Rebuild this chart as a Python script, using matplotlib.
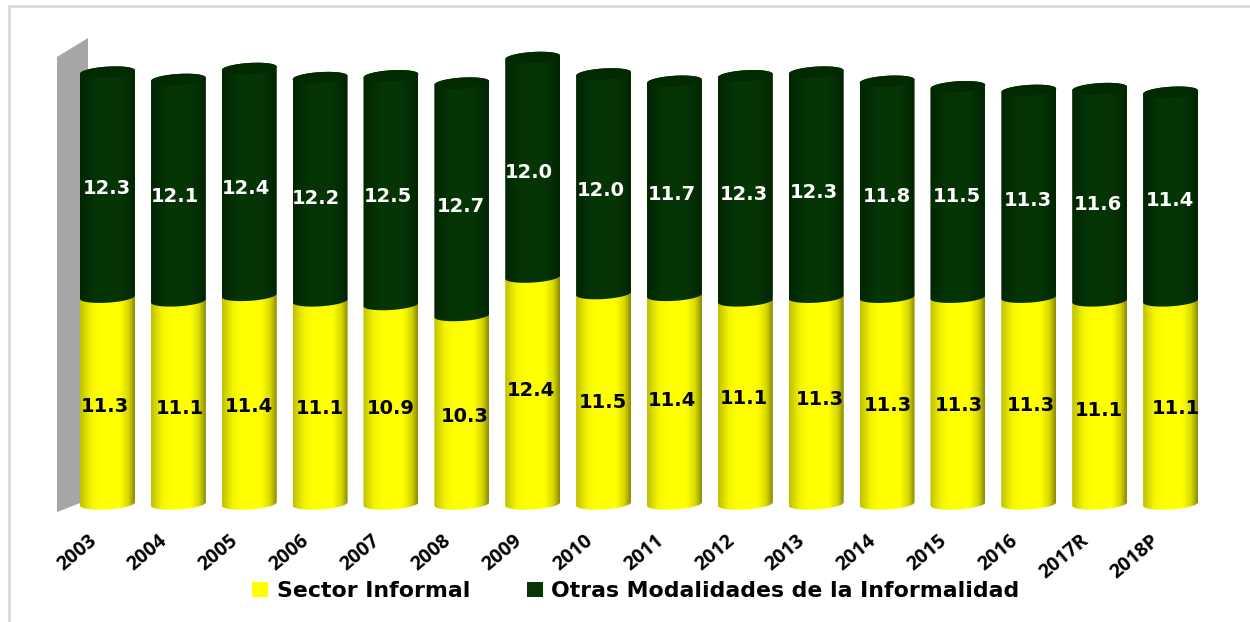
import numpy as np
import matplotlib
matplotlib.use("Agg")
import matplotlib.pyplot as plt
from matplotlib.colors import LinearSegmentedColormap
from matplotlib.patches import PathPatch, Polygon, Rectangle
from matplotlib.path import Path
from matplotlib.lines import Line2D
from matplotlib.transforms import Affine2D, ScaledTranslation

years = ["2003", "2004", "2005", "2006", "2007", "2008", "2009", "2010",
         "2011", "2012", "2013", "2014", "2015", "2016", "2017R", "2018P"]
sector_informal = [11.3, 11.1, 11.4, 11.1, 10.9, 10.3, 12.4, 11.5,
                   11.4, 11.1, 11.3, 11.3, 11.3, 11.3, 11.1, 11.1]
otras_modalidades = [12.3, 12.1, 12.4, 12.2, 12.5, 12.7, 12.0, 12.0,
                     11.7, 12.3, 12.3, 11.8, 11.5, 11.3, 11.6, 11.4]
series_names = ["Sector Informal", "Otras Modalidades de la Informalidad"]

# label placement in reference pixels (style only)
yellow_label_x = [105, 180, 249, 320, 391, 465, 531, 603, 672, 744, 820, 888, 959, 1031, 1099, 1176]
yellow_label_y = [407, 408, 406, 408, 408, 417, 390, 402, 400, 398, 400, 406, 406, 406, 411, 408]
dark_label_x = [107, 175, 246, 316, 388, 461, 529, 601, 672, 744, 814, 887, 957, 1028, 1098, 1170]
dark_label_y = [189, 196, 188, 199, 197, 207, 173, 190, 195, 194, 193, 196, 197, 201, 204, 201]

W, H = 1250, 622
PX_X = 70.87      # pixels per category
PX_Y = 18.3       # pixels per unit
X0 = 107.5        # pixel of first category
Y0 = 504.0        # pixel of value zero
HW = 27.5 / PX_X  # half bar width
ELL = 5.5 / PX_Y
TILT = 1.7 / PX_Y

yellow_cmap = LinearSegmentedColormap.from_list(
    "y", [(0, "#c0c000"), (0.2, "#f4f400"), (0.35, "#ffff00"), (0.72, "#ffff00"),
          (0.88, "#d8d800"), (1, "#8a8a00")])
dark_cmap = LinearSegmentedColormap.from_list(
    "d", [(0, "#012501"), (0.3, "#053405"), (0.7, "#063606"), (1, "#012501")])
DARK_CAP = "#012a01"

fig = plt.figure(figsize=(W / 100, H / 100), dpi=100, facecolor="white")
L, R, TOP, BOTTOM = 57, 1205, 30, Y0 + PX_Y
ax = fig.add_axes([L / W, (H - BOTTOM) / H, (R - L) / W, (BOTTOM - TOP) / H])
xlim = ((L - X0) / PX_X, (R - X0) / PX_X)
ylim = (-1, (Y0 - TOP) / PX_Y)
for s in ax.spines.values():
    s.set_visible(False)
ax.patch.set_visible(False)
ax.yaxis.set_visible(False)

pix = Affine2D().scale(1, -1).translate(0, H)

# chart wall
ax.add_patch(Polygon([(57, 57), (88, 38), (88, 500), (57, 512)], closed=True,
                     facecolor="#a6a6a6", edgecolor="none", transform=pix,
                     zorder=0, clip_on=False))

# frame
fig.add_artist(Line2D([9 / W, 9 / W, 1], [0, 1 - 6 / H, 1 - 6 / H], color="#d9d9d9", lw=2))

u = np.linspace(-1, 1, 80)
arc = np.sqrt(1 - u ** 2)


def segment(i, low, high, cmap, z):
    xs = i + HW * u
    lower = low + TILT * u - ELL * arc
    upper = high + TILT * u + ELL * arc
    verts = np.vstack([np.column_stack([xs, lower]),
                       np.column_stack([xs[::-1], upper[::-1]])])
    patch = PathPatch(Path(np.vstack([verts, verts[0]])), transform=ax.transData,
                      facecolor="none", edgecolor="none")
    ax.add_patch(patch)
    im = ax.imshow(np.linspace(0, 1, 256)[None, :], cmap=cmap, aspect="auto",
                   extent=(i - HW, i + HW, low - 2 * ELL, high + 2 * ELL),
                   interpolation="bilinear", zorder=z)
    im.set_clip_path(patch)


x_pos = np.arange(len(years))
for i, (a, b) in enumerate(zip(sector_informal, otras_modalidades)):
    segment(i, 0, a, yellow_cmap, 2)
    segment(i, a, a + b, dark_cmap, 3)
    xs = i + HW * np.concatenate([u, u[::-1]])
    ys = a + b + TILT * np.concatenate([u, u[::-1]]) + ELL * np.concatenate([-arc, arc[::-1]])
    ax.fill(xs, ys, color=DARK_CAP, lw=0, zorder=4)
    # data labels
    xa = X0 + i * PX_X
    ya_mid = Y0 - a / 2 * PX_Y
    yb_mid = Y0 - (a + b / 2) * PX_Y
    ax.annotate(f"{a:.1f}", (i, a / 2), xytext=(yellow_label_x[i] - xa, ya_mid - yellow_label_y[i]),
                textcoords="offset pixels", ha="center", va="center", color="black",
                fontsize=14, fontweight="bold", family="DejaVu Sans", zorder=6)
    ax.annotate(f"{b:.1f}", (i, a + b / 2), xytext=(dark_label_x[i] - xa, yb_mid - dark_label_y[i]),
                textcoords="offset pixels", ha="center", va="center", color="white",
                fontsize=14, fontweight="bold", family="DejaVu Sans", zorder=6)

ax.set_xlim(*xlim)
ax.set_ylim(*ylim)

ax.set_xticks(x_pos)
ax.set_xticklabels(years, rotation=40, ha="right", rotation_mode="anchor",
                   fontsize=14, fontweight="bold", family="Open Sans", color="black")
ax.tick_params(axis="x", length=0, pad=6)
shift = ScaledTranslation(-20 / 100, 0, fig.dpi_scale_trans)
for t in ax.get_xticklabels():
    t.set_transform(t.get_transform() + shift)

handles = [Rectangle((0, 0), 1, 1, facecolor="#ffff00"), Rectangle((0, 0), 1, 1, facecolor="#063606")]
fig.legend(handles, series_names, loc="center", bbox_to_anchor=(636 / W, 1 - 591 / H),
           ncols=2, frameon=False, handlelength=0.73, handleheight=0.7, handletextpad=0.4,
           columnspacing=2.55, prop={"family": "DejaVu Sans", "weight": "bold", "size": 15.8})

fig.savefig("out.png", dpi=100)
